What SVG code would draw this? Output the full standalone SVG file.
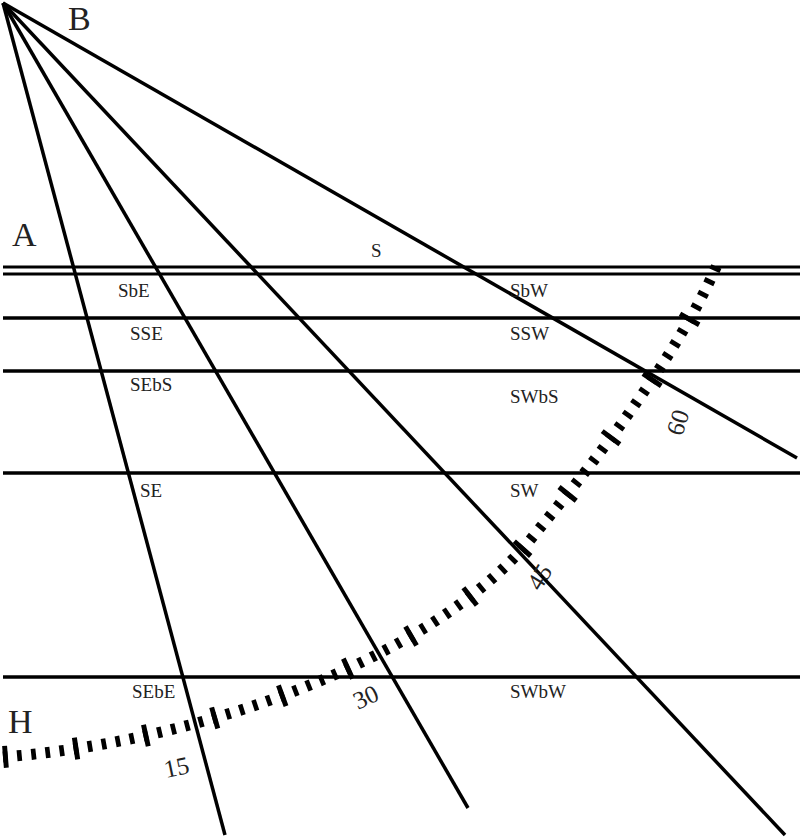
<svg xmlns="http://www.w3.org/2000/svg" width="800" height="837" viewBox="0 0 800 837">
<style>
.l{stroke:#000;stroke-width:3.5;fill:none}
.t{font-family:"Liberation Serif",serif;font-size:19px;fill:#222}
.big{font-family:"Liberation Serif",serif;font-size:34px;fill:#222}
.n{font-family:"Liberation Serif",serif;font-size:25px;fill:#222}
</style>
<rect width="800" height="837" fill="#fff"/>
<g id="lines">
<line class="l" x1="3" y1="3" x2="225" y2="835"/>
<line class="l" x1="3" y1="3" x2="468" y2="808"/>
<line class="l" x1="3" y1="3" x2="785" y2="835"/>
<line class="l" x1="3" y1="3" x2="797" y2="458"/>
<line class="l" x1="3" y1="267" x2="800" y2="267" style="stroke-width:3"/>
<line class="l" x1="3" y1="274" x2="800" y2="274" style="stroke-width:3"/>
<line class="l" x1="3" y1="318" x2="800" y2="318"/>
<line class="l" x1="3" y1="371" x2="800" y2="371"/>
<line class="l" x1="3" y1="473" x2="800" y2="473"/>
<line class="l" x1="3" y1="677" x2="800" y2="677"/>
</g>
<g id="scale">
<path d="M3,757 C200,742 430,660 530,540 S690,330 720,258" pathLength="65" fill="none" stroke="#000" stroke-width="11" stroke-dasharray="0.33 0.67"/>
<path d="M3,757 C200,742 430,660 530,540 S690,330 720,258" pathLength="65" fill="none" stroke="#000" stroke-width="22" stroke-dasharray="0.35 4.65"/>
</g>
<g id="labels">
<text class="big" x="68" y="30">B</text>
<text class="big" x="12" y="246">A</text>
<text class="big" x="8" y="733">H</text>
<text class="t" x="371" y="257">S</text>
<text class="t" x="118" y="297">SbE</text>
<text class="t" x="510" y="297">SbW</text>
<text class="t" x="130" y="340">SSE</text>
<text class="t" x="510" y="340">SSW</text>
<text class="t" x="130" y="391">SEbS</text>
<text class="t" x="510" y="403">SWbS</text>
<text class="t" x="140" y="497">SE</text>
<text class="t" x="510" y="497">SW</text>
<text class="t" x="132" y="698">SEbE</text>
<text class="t" x="510" y="698">SWbW</text>
<text class="n" transform="translate(166,778) rotate(-12)">15</text>
<text class="n" transform="translate(358,710) rotate(-25)">30</text>
<text class="n" transform="translate(540,592) rotate(-58)">45</text>
<text class="n" transform="translate(682,437) rotate(-72)">60</text>
</g>
</svg>
